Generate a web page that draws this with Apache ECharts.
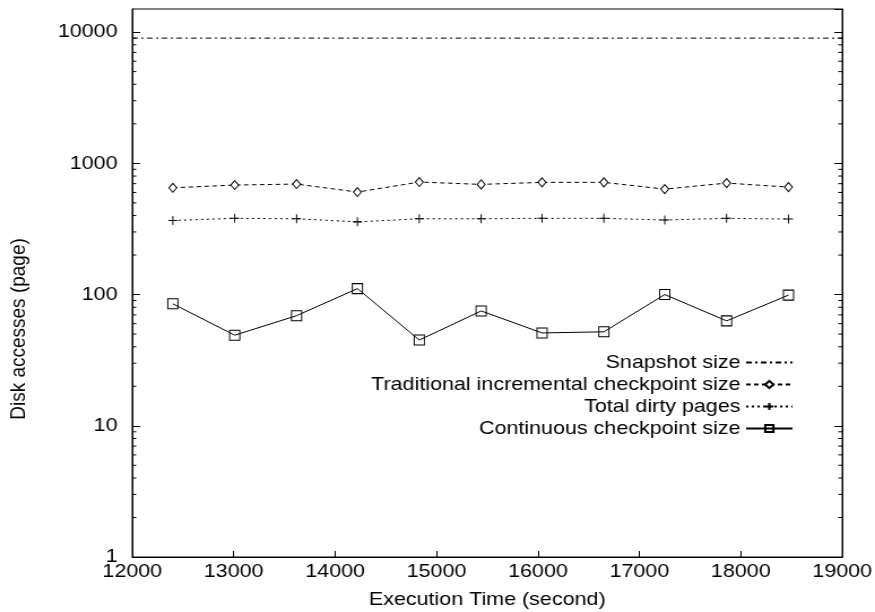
<!DOCTYPE html>
<html>
<head>
<meta charset="utf-8">
<script src="https://cdn.jsdelivr.net/npm/echarts@6/dist/echarts.min.js"></script>
<style>
  html, body { margin: 0; padding: 0; background: #fff; overflow: hidden; }
  /* the original plot is a horizontally stretched gnuplot image,
     so the chart is drawn 774px wide and stretched to 875px */
  #chart { width: 774px; height: 612px; transform: scaleX(1.1305); transform-origin: 0 0; }
</style>
</head>
<body>
<div id="chart"></div>
<script>
// execution time of each sample (second)
const execTime = [12400, 13010, 13620, 14220, 14830, 15440, 16040, 16650, 17250, 17860, 18470]
// snapshot size is flat over the whole run
const snapshotTime = [12000, 19000]
const snapshotSize = [9000, 9000]
const traditionalSize = [651, 683, 695, 604, 720, 691, 716, 716, 636, 707, 659]
const dirtyPages = [367, 381, 378, 358, 378, 378, 381, 381, 370, 381, 376]
const continuousSize = [85, 49, 69, 111, 45, 75, 51, 52, 100, 63, 99]

const xTicks = [12000, 13000, 14000, 15000, 16000, 17000, 18000, 19000]
const seriesNames = [
  'Snapshot size',
  'Traditional incremental checkpoint size',
  'Total dirty pages',
  'Continuous checkpoint size'
]

const FONT = 'Liberation Sans, Arial, Helvetica, sans-serif'
const FS = 19
const X_MIN = xTicks[0]
const X_MAX = xTicks[xTicks.length - 1]

// minor ticks 2..9 of each decade (gnuplot style)
const minorTicks = []
for (let d = 1; d <= 1000; d *= 10) {
  for (let m = 2; m <= 9; m++) minorTicks.push(m * d)
}

const zip = (xs, ys) => xs.map((x, i) => [x, ys[i]])

const chart = echarts.init(document.getElementById('chart'), null, { renderer: 'canvas' })

const yAxisBase = {
  type: 'log',
  logBase: 10,
  min: 1,
  max: 15000,
  axisLine: { show: true, lineStyle: { color: '#000', width: 1 } },
  axisTick: { show: true, inside: true, length: 7, lineStyle: { color: '#000' } },
  splitLine: { show: false },
  minorTick: { show: false },
  minorSplitLine: { show: false }
}

const legendAt = (name, top, extra) => Object.assign({
  data: [name],
  orient: 'vertical',
  right: 72,
  top: top,
  align: 'right',
  padding: 0,
  itemWidth: 41,
  itemHeight: 9,
  selectedMode: false,
  textStyle: { fontFamily: FONT, fontSize: FS, color: '#000' }
}, extra || {})

const option = {
  animation: false,
  backgroundColor: '#fff',
  textStyle: { fontFamily: FONT },
  grid: {
    left: 117,
    right: 29,
    top: 9,
    bottom: 55,
    outerBoundsMode: 'none',
    containLabel: false,
    show: true,
    borderColor: '#000',
    borderWidth: 1,
    backgroundColor: 'transparent'
  },
  legend: [
    // snapshot line has no point marker, hide the legend symbol
    legendAt(seriesNames[0], 353, { itemStyle: { opacity: 0 } }),
    legendAt(seriesNames[1], 375),
    legendAt(seriesNames[2], 397),
    legendAt(seriesNames[3], 419)
  ],
  xAxis: {
    type: 'value',
    min: X_MIN,
    max: X_MAX,
    interval: 1000,
    name: 'Execution Time (second)',
    nameLocation: 'middle',
    nameGap: 33,
    nameTextStyle: { fontFamily: FONT, fontSize: FS, color: '#000' },
    axisLine: { show: true, lineStyle: { color: '#000', width: 1 } },
    axisTick: { show: true, inside: true, length: 6, lineStyle: { color: '#000' } },
    axisLabel: {
      fontFamily: FONT, fontSize: FS, color: '#000', margin: 5,
      formatter: v => String(v)
    },
    splitLine: { show: false }
  },
  yAxis: [
    Object.assign({}, yAxisBase, {
      position: 'left',
      name: 'Disk accesses (page)',
      nameLocation: 'middle',
      nameGap: 91,
      nameRotate: 90,
      nameTextStyle: { fontFamily: FONT, fontSize: FS, color: '#000', padding: [0, 92, 0, 0] },
      axisLabel: {
        fontFamily: FONT, fontSize: FS, color: '#000', margin: 13,
        showMaxLabel: false,
        formatter: v => String(Math.round(v))
      }
    }),
    Object.assign({}, yAxisBase, {
      position: 'right',
      axisLabel: { show: false }
    })
  ],
  series: [
    {
      name: seriesNames[0],
      type: 'line',
      data: zip(snapshotTime, snapshotSize),
      symbol: 'circle',
      showSymbol: false,
      lineStyle: { color: '#000', width: 1, type: [5, 3, 2, 3] },
      itemStyle: { color: '#000' }
    },
    {
      name: seriesNames[1],
      type: 'line',
      data: zip(execTime, traditionalSize),
      symbol: 'diamond',
      symbolSize: [7, 9],
      lineStyle: { color: '#000', width: 1, type: [4, 3] },
      itemStyle: { color: '#fff', borderColor: '#000', borderWidth: 1 }
    },
    {
      name: seriesNames[2],
      type: 'line',
      data: zip(execTime, dirtyPages),
      symbol: 'path://M0,5L10,5M5,0L5,10',
      symbolSize: [8, 9],
      lineStyle: { color: '#000', width: 1, type: [2, 3] },
      itemStyle: { color: 'none', borderColor: '#000', borderWidth: 1 }
    },
    {
      name: seriesNames[3],
      type: 'line',
      data: zip(execTime, continuousSize),
      symbol: 'rect',
      symbolSize: [9, 10],
      lineStyle: { color: '#000', width: 1 },
      itemStyle: { color: 'none', borderColor: '#000', borderWidth: 1 }
    },
    {
      // minor log ticks on both sides
      type: 'custom',
      silent: true,
      z: 1,
      data: minorTicks.map(v => [X_MIN, v]),
      renderItem: function (params, api) {
        const v = api.value(1)
        const p = api.coord([X_MIN, v])
        const q = api.coord([X_MAX, v])
        const style = { stroke: '#000', lineWidth: 1 }
        return {
          type: 'group',
          children: [
            { type: 'line', shape: { x1: p[0], y1: p[1], x2: p[0] + 3.5, y2: p[1] }, style: style },
            { type: 'line', shape: { x1: q[0] - 3.5, y1: q[1], x2: q[0], y2: q[1] }, style: style }
          ]
        }
      }
    }
  ]
}

option && chart.setOption(option)
</script>
</body>
</html>
